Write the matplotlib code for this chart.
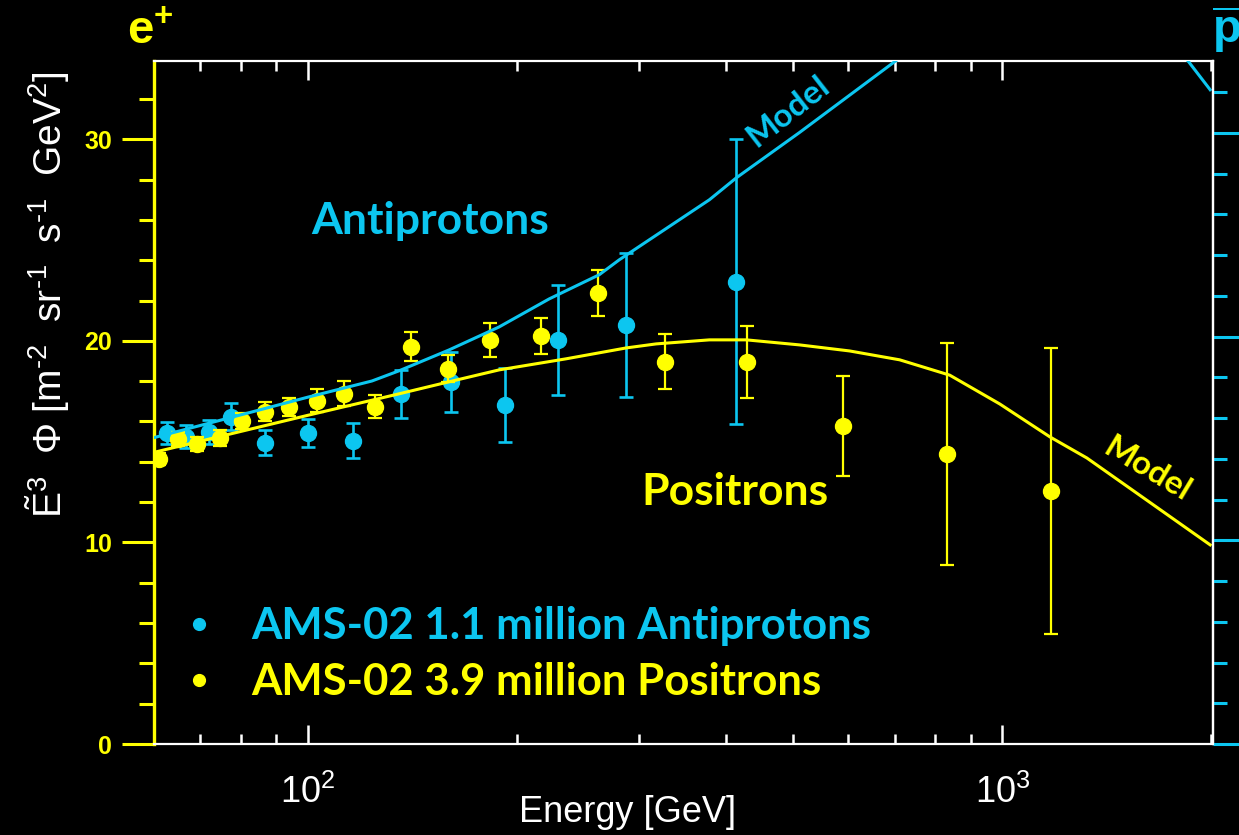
import numpy as np
import matplotlib
matplotlib.use("Agg")
import matplotlib.pyplot as plt
from matplotlib.lines import Line2D
from matplotlib.ticker import LogLocator, MultipleLocator

# ---- data -------------------------------------------------------------
# AMS-02 positrons: energy [GeV], E^3 * flux, symmetric error
pos_energy = [61.1, 64.9, 69.3, 74.6, 80.3, 86.6, 93.8, 102.9, 112.6, 124.8,
              140.7, 159.0, 182.8, 216.6, 261.7, 326.9, 429.2, 588.5, 831.2, 1174]
pos_flux = [14.14, 15.14, 14.89, 15.19, 16.03, 16.48, 16.72, 17.02, 17.37, 16.72,
            19.70, 18.61, 20.05, 20.25, 22.38, 18.96, 18.96, 15.78, 14.39, 12.56]
pos_err = [0.30, 0.35, 0.35, 0.40, 0.40, 0.47, 0.47, 0.57, 0.62, 0.57,
           0.72, 0.67, 0.84, 0.89, 1.15, 1.36, 1.79, 2.48, 5.50, 7.10]

# AMS-02 antiprotons (scaled to the positron axis)
pbar_energy = [62.6, 66.8, 72.1, 77.4, 86.6, 99.9, 116.0, 136.0, 160.6, 192.2,
               229.1, 287.2, 413.8]
pbar_flux = [15.43, 15.24, 15.48, 16.23, 14.94, 15.43, 15.04, 17.37, 17.97, 16.82,
             20.05, 20.79, 22.93]
pbar_err = [0.55, 0.57, 0.60, 0.67, 0.62, 0.69, 0.87, 1.19, 1.49, 1.84,
            2.73, 3.57, 7.07]

# Model curves
pbar_model_energy = [60, 82.1, 100, 123.6, 135.1, 159.6, 188.4, 222.4, 262.6, 280.6,
                     378.4, 413.8, 510.3, 699.3, 800, 1000, 1300, 1600, 1849, 1991]
pbar_model_flux = [15.2, 16.43, 17.21, 18.01, 18.51, 19.55, 20.69, 22.08, 23.28, 24.02,
                   27.0, 28.09, 30.34, 33.85, 35.3, 37.0, 37.5, 36.2, 33.9, 32.46]

pos_model_energy = [60, 100, 135.1, 159.6, 188.4, 235.3, 287.2, 317.2, 378.4, 427.8,
                    510.3, 602.4, 711.1, 839.5, 991.1, 1170, 1323, 1991]
pos_model_flux = [14.47, 16.31, 17.37, 17.97, 18.56, 19.11, 19.65, 19.85, 20.05, 20.05,
                  19.80, 19.50, 19.06, 18.30, 16.87, 15.24, 14.19, 9.88]

y_ticks = [0, 10, 20, 30]
legend_labels = ["AMS-02 1.1 million Antiprotons", "AMS-02 3.9 million Positrons"]

# ---- style ------------------------------------------------------------
CYAN = "#0CC6F0"
YELLOW = "#FFFF00"
W, H = 1239, 835

plt.rcParams["font.family"] = ["Liberation Sans", "DejaVu Sans"]
plt.rcParams["mathtext.fontset"] = "custom"
plt.rcParams["mathtext.rm"] = "Liberation Sans"
plt.rcParams["mathtext.it"] = "Liberation Sans:italic"
plt.rcParams["mathtext.bf"] = "Liberation Sans:bold"

LABEL_FONT = ["Lato", "DejaVu Sans"]


def fx(px):
    return px / W


def fy(py):
    return 1 - py / H


fig = plt.figure(figsize=(W / 100, H / 100), dpi=100, facecolor="black")
ax = fig.add_axes([fx(154), fy(744), (1213 - 154) / W, (744 - 60.7) / H])
ax.set_facecolor("black")

ax.set_xscale("log")
ax.set_xlim(60, 2010)
ax.set_ylim(0, 33.9)

# data points
ax.errorbar(pbar_energy, pbar_flux, yerr=pbar_err, fmt="o", color=CYAN,
            ms=11.5, elinewidth=1.9, capsize=5, capthick=1.9, zorder=3)
ax.errorbar(pos_energy, pos_flux, yerr=pos_err, fmt="o", color=YELLOW,
            ms=11.5, elinewidth=1.6, capsize=5, capthick=1.6, zorder=4)

# model curves
ax.plot(pos_model_energy, pos_model_flux, color=YELLOW, lw=2.2, zorder=5)
ax.plot(pbar_model_energy, pbar_model_flux, color=CYAN, lw=2.2, zorder=6)

# x axis
ax.xaxis.set_major_locator(LogLocator(base=10))
ax.xaxis.set_minor_locator(LogLocator(base=10, subs=np.arange(2, 10)))
ax.tick_params(axis="x", which="both", direction="in", top=True, bottom=True,
               colors="white", labelsize=26, pad=22)
ax.tick_params(axis="x", which="major", length=14, width=1.8)
ax.tick_params(axis="x", which="minor", length=7, width=1.8)

# left y axis (positrons)
ax.set_yticks(y_ticks, labels=[str(v) for v in y_ticks], fontweight="bold", fontsize=18)
ax.yaxis.set_minor_locator(MultipleLocator(2))
ax.tick_params(axis="y", which="both", direction="out", colors=YELLOW, pad=7)
ax.tick_params(axis="y", which="major", length=23, width=2.2)
ax.tick_params(axis="y", which="minor", length=10.5, width=2.2)

for side in ("top", "bottom", "right"):
    ax.spines[side].set_color("white")
    ax.spines[side].set_linewidth(1.6)
ax.spines["left"].set_color(YELLOW)
ax.spines["left"].set_linewidth(2.4)

# right y axis (antiprotons), labels fall outside the canvas
ax2 = ax.twinx()
ax2.set_ylim(0, 33.55)
ax2.yaxis.set_major_locator(MultipleLocator(10))
ax2.yaxis.set_minor_locator(MultipleLocator(2))
ax2.tick_params(axis="y", which="both", direction="out", colors=CYAN, labelright=False)
ax2.tick_params(axis="y", which="major", length=23, width=2.2)
ax2.tick_params(axis="y", which="minor", length=10, width=2.2)
for side in ("top", "bottom", "left"):
    ax2.spines[side].set_visible(False)
ax2.spines["right"].set_color("white")
ax2.spines["right"].set_linewidth(1.6)

# axis titles
fig.text(fx(628), fy(822), "Energy [GeV]", color="white", fontsize=26,
         ha="center", va="baseline")
fig.text(fx(62), fy(295),
         r"$\tilde{\mathrm{E}}^{3}\ \ \Phi\ [\mathrm{m}^{\text{-}2}\ \ \mathrm{sr}^{\text{-}1}\ \ "
         r"\mathrm{s}^{\text{-}1}\ \ \mathrm{GeV}^{2}]$",
         color="white", fontsize=28, rotation=90, rotation_mode="anchor",
         ha="center", va="baseline")

fig.text(fx(127), fy(44), r"$\mathbf{e}^{\mathbf{+}}$", color=YELLOW, fontsize=34,
         ha="left", va="baseline")
fig.text(fx(1212), fy(44), r"$\overline{\mathbf{p}}$", color=CYAN, fontsize=34,
         ha="left", va="baseline")

# annotations
fig.text(fx(430), fy(234), "Antiprotons", color=CYAN, fontsize=32, fontweight="bold",
         family=LABEL_FONT, ha="center", va="baseline")
fig.text(fx(735), fy(505), "Positrons", color=YELLOW, fontsize=32, fontweight="bold",
         family=LABEL_FONT, ha="center", va="baseline")
fig.text(fx(788), fy(111), "Model", color=CYAN, fontsize=24, fontweight="bold",
         family=LABEL_FONT, ha="center", va="center", rotation=38,
         rotation_mode="anchor")
fig.text(fx(1147), fy(469), "Model", color=YELLOW, fontsize=24, fontweight="bold",
         family=LABEL_FONT, ha="center", va="center", rotation=-31,
         rotation_mode="anchor")

# legend
handles = [Line2D([], [], ls="none", marker="o", color=CYAN, ms=8.5),
           Line2D([], [], ls="none", marker="o", color=YELLOW, ms=8.5)]
leg = ax.legend(handles, legend_labels, loc="upper left",
                bbox_to_anchor=(fx(186), fy(606)), bbox_transform=fig.transFigure,
                frameon=False, borderpad=0, borderaxespad=0, handlelength=0.6,
                handletextpad=0.89, labelspacing=0.37,
                prop={"family": LABEL_FONT, "weight": "bold", "size": 31.5})
for txt, col in zip(leg.get_texts(), (CYAN, YELLOW)):
    txt.set_color(col)

fig.savefig("out.png", dpi=100, facecolor="black")
